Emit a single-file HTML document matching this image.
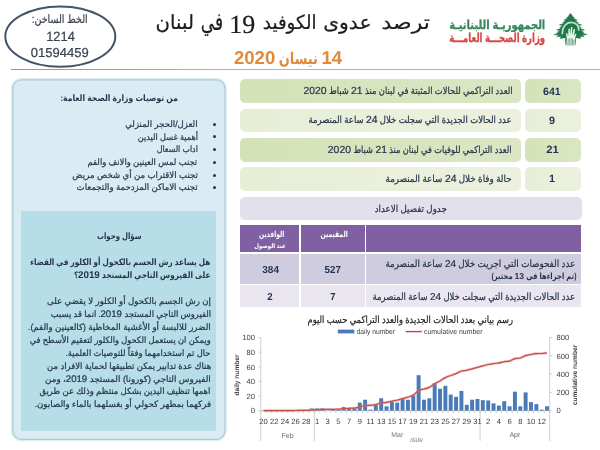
<!DOCTYPE html>
<html lang="ar">
<head>
<meta charset="utf-8">
<title>ترصد عدوى الكوفيد 19 في لبنان</title>
<style>
html,body{margin:0;padding:0;background:#fff;}
body{width:600px;height:450px;position:relative;overflow:hidden;text-rendering:geometricPrecision;font-family:"Liberation Sans","DejaVu Sans",sans-serif;color:#2a3340;}
.t{position:absolute;white-space:nowrap;direction:rtl;line-height:1.3;transform-origin:100% 50%;transform:scaleX(var(--s));--hw:0.278em;-webkit-text-stroke:0.22px currentColor;}
.t .n{display:inline-block;direction:ltr;transform:scaleX(calc(1 / var(--s)));margin:0 calc((1 / var(--s) - 1) * var(--hw) * var(--n));}
.chart{position:absolute;left:0;top:0;}
.logo{position:absolute;left:552.5px;top:12.5px;}
.ellsvg{position:absolute;left:0;top:0;}
.hline{position:absolute;left:11px;top:68.7px;width:589px;height:1px;background:linear-gradient(to right,#8b97a5,#a4b4c0 35%);}
.row{position:absolute;left:239.5px;width:281.3px;height:23.7px;border-radius:5px;}
.num{position:absolute;left:524.8px;width:56.6px;height:23.7px;border-radius:5px;}
.dk{background:linear-gradient(to right,#d4e2b8,#dbe6c4);}
.lt{background:linear-gradient(to right,#e7eed6,#ecf1df);}
.prow{position:absolute;left:240px;top:196.7px;width:341.9px;height:23.2px;border-radius:5px;background:#e4dfec;}
.th{position:absolute;top:224.8px;height:26.8px;background:#7f60a3;}
.td{position:absolute;}
.r1{top:253.8px;height:29.8px;background:#d0ccdf;}
.r2{top:284.7px;height:22.6px;background:#e9e6f0;}
.c1{left:240px;width:59.3px;}
.c2{left:300.6px;width:64px;}
.c3{left:365.8px;width:215.4px;}
.tn{position:absolute;text-align:center;font-weight:bold;font-size:12px;color:#1f2c40;line-height:14px;}
.panel{position:absolute;left:12.3px;top:79.5px;width:211.6px;height:357px;border:1.3px solid #a8c8d8;border-radius:10.5px;background:#daecf3;box-shadow:0 0 2.5px rgba(150,200,225,0.8);}
.inner{position:absolute;left:21.1px;top:211px;width:195.4px;height:220.3px;background:#b6dde8;}
.bu{position:absolute;left:213.3px;width:3px;height:3px;border-radius:50%;background:#2a3340;}
</style>
</head>
<body>
<svg class="ellsvg" width="125" height="75" viewBox="0 0 125 75"><ellipse cx="60.3" cy="36.6" rx="55" ry="30.2" fill="none" stroke="#43536a" stroke-width="2"/></svg>
<svg class="logo" width="36" height="34" viewBox="0 0 36 34">
<path fill="#20764a" stroke="#20764a" stroke-width="0.5" stroke-linejoin="round" d="M17.5 0.4 L15.6 2.4 L16.5 2.8 L13.6 4.7 L15.0 5.1 L10.8 7.2 L13.4 7.7 L9.8 9.6 L11.6 10.0 L6.4 12.0 L10.0 12.6 L6.8 14.5 L8.8 15.0 L3.6 17.0 L7.6 17.5 L4.2 19.3 L6.2 19.7 L0.9 21.6 L5.8 22.1 L3.8 23.6 L8.4 23.5 L7.0 25.4 L12.6 24.7 L12.3 27.5 L12.9 32.0 L22.1 32.0 L22.7 27.5 L22.4 24.7 L28.0 25.4 L26.6 23.5 L31.2 23.6 L29.2 22.1 L34.1 21.6 L28.8 19.7 L30.8 19.3 L27.4 17.5 L31.4 17.0 L26.2 15.0 L28.2 14.5 L25.0 12.6 L28.6 12.0 L23.4 10.0 L25.2 9.6 L21.6 7.7 L24.2 7.2 L20.0 5.1 L21.4 4.7 L18.5 2.8 L19.4 2.4 Z"/>
<path fill="none" stroke="#b4e6cb" stroke-width="1.7" stroke-linecap="round" d="M9.3 20.6 C9.4 13.6 13.4 9.3 18 9.3 C22.8 9.4 26.4 12.6 25.6 17"/>
<path fill="#eef8f2" d="M13.4 32 L13.8 25.4 L13.0 20.4 L14.1 20.0 L15.2 23.4 L15.5 15.8 L16.8 15.7 L17.1 22.4 L18.0 13.9 L19.4 14.1 L19.0 22.6 L20.8 15.8 L22.0 16.2 L21.0 23.6 L22.6 20.6 L23.5 21.1 L21.8 26.2 L22.0 32 Z"/>
<path fill="none" stroke="#20764a" stroke-width="0.55" d="M14.9 32 L15.3 26 M16.5 32 L16.7 25 M18.1 32 L18.2 25 M19.6 32 L19.5 25.5 M20.9 32 L20.7 27"/>
</svg>

<div class="hline"></div>
<div class="row dk" style="top:79.2px"></div><div class="num dk" style="top:79.2px"></div>
<div class="row lt" style="top:108.5px"></div><div class="num lt" style="top:108.5px"></div>
<div class="row dk" style="top:138px"></div><div class="num dk" style="top:138px"></div>
<div class="row lt" style="top:167.2px"></div><div class="num lt" style="top:167.2px"></div>
<div class="prow"></div>
<div class="th c1"></div><div class="th c2"></div><div class="th c3"></div>
<div class="td r1 c1"></div><div class="td r1 c2"></div><div class="td r1 c3"></div>
<div class="td r2 c1"></div><div class="td r2 c2"></div><div class="td r2 c3"></div>
<svg class="chart" width="600" height="450" viewBox="0 0 600 450" font-family="'Liberation Sans', sans-serif">
<g stroke="#c4c4c4" stroke-width="0.8" fill="none">
<line x1="260.8" y1="337.5" x2="260.8" y2="410.7"/>
<line x1="549.7" y1="337.5" x2="549.7" y2="410.7"/>
<line x1="260.8" y1="410.7" x2="549.7" y2="410.7"/>
<line x1="258.3" y1="410.7" x2="260.8" y2="410.7"/>
<line x1="258.3" y1="396.1" x2="260.8" y2="396.1"/>
<line x1="258.3" y1="381.4" x2="260.8" y2="381.4"/>
<line x1="258.3" y1="366.8" x2="260.8" y2="366.8"/>
<line x1="258.3" y1="352.1" x2="260.8" y2="352.1"/>
<line x1="258.3" y1="337.5" x2="260.8" y2="337.5"/>
<line x1="549.7" y1="410.7" x2="552.2" y2="410.7"/>
<line x1="549.7" y1="392.4" x2="552.2" y2="392.4"/>
<line x1="549.7" y1="374.1" x2="552.2" y2="374.1"/>
<line x1="549.7" y1="355.8" x2="552.2" y2="355.8"/>
<line x1="549.7" y1="337.5" x2="552.2" y2="337.5"/>
<line x1="260.8" y1="410.7" x2="260.8" y2="413.2"/>
<line x1="266.2" y1="410.7" x2="266.2" y2="413.2"/>
<line x1="271.5" y1="410.7" x2="271.5" y2="413.2"/>
<line x1="276.9" y1="410.7" x2="276.9" y2="413.2"/>
<line x1="282.2" y1="410.7" x2="282.2" y2="413.2"/>
<line x1="287.6" y1="410.7" x2="287.6" y2="413.2"/>
<line x1="292.9" y1="410.7" x2="292.9" y2="413.2"/>
<line x1="298.2" y1="410.7" x2="298.2" y2="413.2"/>
<line x1="303.6" y1="410.7" x2="303.6" y2="413.2"/>
<line x1="308.9" y1="410.7" x2="308.9" y2="413.2"/>
<line x1="314.3" y1="410.7" x2="314.3" y2="413.2"/>
<line x1="319.6" y1="410.7" x2="319.6" y2="413.2"/>
<line x1="325.0" y1="410.7" x2="325.0" y2="413.2"/>
<line x1="330.4" y1="410.7" x2="330.4" y2="413.2"/>
<line x1="335.7" y1="410.7" x2="335.7" y2="413.2"/>
<line x1="341.1" y1="410.7" x2="341.1" y2="413.2"/>
<line x1="346.4" y1="410.7" x2="346.4" y2="413.2"/>
<line x1="351.8" y1="410.7" x2="351.8" y2="413.2"/>
<line x1="357.1" y1="410.7" x2="357.1" y2="413.2"/>
<line x1="362.4" y1="410.7" x2="362.4" y2="413.2"/>
<line x1="367.8" y1="410.7" x2="367.8" y2="413.2"/>
<line x1="373.1" y1="410.7" x2="373.1" y2="413.2"/>
<line x1="378.5" y1="410.7" x2="378.5" y2="413.2"/>
<line x1="383.9" y1="410.7" x2="383.9" y2="413.2"/>
<line x1="389.2" y1="410.7" x2="389.2" y2="413.2"/>
<line x1="394.6" y1="410.7" x2="394.6" y2="413.2"/>
<line x1="399.9" y1="410.7" x2="399.9" y2="413.2"/>
<line x1="405.2" y1="410.7" x2="405.2" y2="413.2"/>
<line x1="410.6" y1="410.7" x2="410.6" y2="413.2"/>
<line x1="415.9" y1="410.7" x2="415.9" y2="413.2"/>
<line x1="421.3" y1="410.7" x2="421.3" y2="413.2"/>
<line x1="426.6" y1="410.7" x2="426.6" y2="413.2"/>
<line x1="432.0" y1="410.7" x2="432.0" y2="413.2"/>
<line x1="437.4" y1="410.7" x2="437.4" y2="413.2"/>
<line x1="442.7" y1="410.7" x2="442.7" y2="413.2"/>
<line x1="448.1" y1="410.7" x2="448.1" y2="413.2"/>
<line x1="453.4" y1="410.7" x2="453.4" y2="413.2"/>
<line x1="458.8" y1="410.7" x2="458.8" y2="413.2"/>
<line x1="464.1" y1="410.7" x2="464.1" y2="413.2"/>
<line x1="469.4" y1="410.7" x2="469.4" y2="413.2"/>
<line x1="474.8" y1="410.7" x2="474.8" y2="413.2"/>
<line x1="480.1" y1="410.7" x2="480.1" y2="413.2"/>
<line x1="485.5" y1="410.7" x2="485.5" y2="413.2"/>
<line x1="490.9" y1="410.7" x2="490.9" y2="413.2"/>
<line x1="496.2" y1="410.7" x2="496.2" y2="413.2"/>
<line x1="501.5" y1="410.7" x2="501.5" y2="413.2"/>
<line x1="506.9" y1="410.7" x2="506.9" y2="413.2"/>
<line x1="512.2" y1="410.7" x2="512.2" y2="413.2"/>
<line x1="517.6" y1="410.7" x2="517.6" y2="413.2"/>
<line x1="523.0" y1="410.7" x2="523.0" y2="413.2"/>
<line x1="528.3" y1="410.7" x2="528.3" y2="413.2"/>
<line x1="533.6" y1="410.7" x2="533.6" y2="413.2"/>
<line x1="539.0" y1="410.7" x2="539.0" y2="413.2"/>
<line x1="544.3" y1="410.7" x2="544.3" y2="413.2"/>
<line x1="549.7" y1="410.7" x2="549.7" y2="413.2"/>
<line x1="260.8" y1="410.7" x2="260.8" y2="441.0"/>
<line x1="314.3" y1="410.7" x2="314.3" y2="441.0"/>
<line x1="480.1" y1="410.7" x2="480.1" y2="441.0"/>
<line x1="549.7" y1="410.7" x2="549.7" y2="441.0"/>
</g>
<g fill="#4a7ab7"><rect x="266.85" y="409.97" width="3.95" height="0.73"/><rect x="293.60" y="409.97" width="3.95" height="0.73"/><rect x="298.95" y="409.97" width="3.95" height="0.73"/><rect x="304.30" y="409.97" width="3.95" height="0.73"/><rect x="309.65" y="408.50" width="3.95" height="2.20"/><rect x="315.00" y="408.50" width="3.95" height="2.20"/><rect x="320.35" y="408.50" width="3.95" height="2.20"/><rect x="331.05" y="409.24" width="3.95" height="1.46"/><rect x="336.40" y="409.97" width="3.95" height="0.73"/><rect x="341.75" y="407.04" width="3.95" height="3.66"/><rect x="347.10" y="408.14" width="3.95" height="2.56"/><rect x="352.45" y="408.14" width="3.95" height="2.56"/><rect x="357.80" y="402.65" width="3.95" height="8.05"/><rect x="363.15" y="399.72" width="3.95" height="10.98"/><rect x="368.50" y="409.68" width="3.95" height="1.02"/><rect x="373.85" y="404.84" width="3.95" height="5.86"/><rect x="379.20" y="398.26" width="3.95" height="12.44"/><rect x="384.55" y="406.31" width="3.95" height="4.39"/><rect x="389.90" y="401.92" width="3.95" height="8.78"/><rect x="395.25" y="402.65" width="3.95" height="8.05"/><rect x="400.60" y="398.99" width="3.95" height="11.71"/><rect x="405.95" y="399.72" width="3.95" height="10.98"/><rect x="411.30" y="395.33" width="3.95" height="15.37"/><rect x="416.65" y="375.20" width="3.95" height="35.50"/><rect x="422.00" y="399.72" width="3.95" height="10.98"/><rect x="427.35" y="398.26" width="3.95" height="12.44"/><rect x="432.70" y="383.25" width="3.95" height="27.45"/><rect x="438.05" y="388.74" width="3.95" height="21.96"/><rect x="443.40" y="385.81" width="3.95" height="24.89"/><rect x="448.75" y="394.60" width="3.95" height="16.10"/><rect x="454.10" y="396.79" width="3.95" height="13.91"/><rect x="459.45" y="390.94" width="3.95" height="19.76"/><rect x="464.80" y="404.84" width="3.95" height="5.86"/><rect x="470.15" y="399.72" width="3.95" height="10.98"/><rect x="475.50" y="398.99" width="3.95" height="11.71"/><rect x="480.85" y="400.16" width="3.95" height="10.54"/><rect x="486.20" y="400.45" width="3.95" height="10.25"/><rect x="491.55" y="403.38" width="3.95" height="7.32"/><rect x="496.90" y="405.58" width="3.95" height="5.12"/><rect x="502.25" y="401.18" width="3.95" height="9.52"/><rect x="507.60" y="406.31" width="3.95" height="4.39"/><rect x="512.95" y="391.67" width="3.95" height="19.03"/><rect x="518.30" y="406.31" width="3.95" height="4.39"/><rect x="523.65" y="392.40" width="3.95" height="18.30"/><rect x="529.00" y="402.14" width="3.95" height="8.56"/><rect x="534.35" y="404.11" width="3.95" height="6.59"/><rect x="539.70" y="409.68" width="3.95" height="1.02"/><rect x="545.05" y="406.31" width="3.95" height="4.39"/></g>
<path d="M263.5 410.7 C264.4 410.7 267.0 410.6 268.8 410.6 C270.6 410.6 272.4 410.6 274.2 410.6 C276.0 410.6 277.7 410.6 279.5 410.6 C281.3 410.6 283.1 410.6 284.9 410.6 C286.7 410.6 288.4 410.6 290.2 410.6 C292.0 410.6 293.8 410.5 295.6 410.5 C297.4 410.5 299.1 410.4 300.9 410.4 C302.7 410.4 304.5 410.4 306.3 410.3 C308.1 410.3 309.8 410.1 311.6 410.0 C313.4 409.9 315.2 409.8 317.0 409.7 C318.8 409.6 320.5 409.5 322.3 409.4 C324.1 409.4 325.9 409.5 327.7 409.4 C329.5 409.4 331.2 409.3 333.0 409.3 C334.8 409.2 336.6 409.3 338.4 409.2 C340.2 409.1 341.9 408.8 343.7 408.7 C345.5 408.5 347.3 408.5 349.1 408.3 C350.9 408.2 352.6 408.2 354.4 408.0 C356.2 407.8 358.0 407.4 359.8 406.9 C361.6 406.5 363.3 405.8 365.1 405.5 C366.9 405.2 368.7 405.5 370.5 405.4 C372.3 405.2 374.0 405.0 375.8 404.6 C377.6 404.2 379.4 403.3 381.2 402.9 C383.0 402.6 384.7 402.7 386.5 402.4 C388.3 402.1 390.1 401.6 391.9 401.2 C393.7 400.8 395.4 400.6 397.2 400.2 C399.0 399.7 400.8 399.1 402.6 398.6 C404.4 398.1 406.1 397.7 407.9 397.2 C409.7 396.6 411.5 396.3 413.3 395.1 C415.1 394.0 416.8 391.5 418.6 390.5 C420.4 389.4 422.2 389.5 424.0 389.0 C425.8 388.5 427.5 388.3 429.3 387.4 C431.1 386.5 432.9 384.9 434.7 383.8 C436.5 382.7 438.2 381.9 440.0 380.9 C441.8 379.8 443.6 378.5 445.4 377.6 C447.2 376.7 448.9 376.1 450.7 375.5 C452.5 374.8 454.3 374.4 456.1 373.6 C457.9 372.9 459.6 371.6 461.4 371.0 C463.2 370.5 465.0 370.6 466.8 370.3 C468.6 369.9 470.3 369.3 472.1 368.8 C473.9 368.3 475.7 367.8 477.5 367.3 C479.3 366.8 481.0 366.4 482.8 365.9 C484.6 365.4 486.4 364.9 488.2 364.5 C490.0 364.2 491.7 363.9 493.5 363.6 C495.3 363.3 497.1 363.2 498.9 362.9 C500.7 362.6 502.4 362.0 504.2 361.7 C506.0 361.3 507.8 361.6 509.6 361.1 C511.4 360.6 513.1 359.1 514.9 358.6 C516.7 358.1 518.5 358.5 520.3 358.0 C522.1 357.5 523.8 356.2 525.6 355.6 C527.4 355.0 529.2 354.8 531.0 354.5 C532.8 354.1 534.5 353.8 536.3 353.6 C538.1 353.4 539.9 353.6 541.7 353.5 C543.5 353.3 546.1 353.0 547.0 352.9" fill="none" stroke="#d9867f" stroke-width="2.6" stroke-linejoin="round" opacity="0.5"/>
<path d="M263.5 410.7 C264.4 410.7 267.0 410.6 268.8 410.6 C270.6 410.6 272.4 410.6 274.2 410.6 C276.0 410.6 277.7 410.6 279.5 410.6 C281.3 410.6 283.1 410.6 284.9 410.6 C286.7 410.6 288.4 410.6 290.2 410.6 C292.0 410.6 293.8 410.5 295.6 410.5 C297.4 410.5 299.1 410.4 300.9 410.4 C302.7 410.4 304.5 410.4 306.3 410.3 C308.1 410.3 309.8 410.1 311.6 410.0 C313.4 409.9 315.2 409.8 317.0 409.7 C318.8 409.6 320.5 409.5 322.3 409.4 C324.1 409.4 325.9 409.5 327.7 409.4 C329.5 409.4 331.2 409.3 333.0 409.3 C334.8 409.2 336.6 409.3 338.4 409.2 C340.2 409.1 341.9 408.8 343.7 408.7 C345.5 408.5 347.3 408.5 349.1 408.3 C350.9 408.2 352.6 408.2 354.4 408.0 C356.2 407.8 358.0 407.4 359.8 406.9 C361.6 406.5 363.3 405.8 365.1 405.5 C366.9 405.2 368.7 405.5 370.5 405.4 C372.3 405.2 374.0 405.0 375.8 404.6 C377.6 404.2 379.4 403.3 381.2 402.9 C383.0 402.6 384.7 402.7 386.5 402.4 C388.3 402.1 390.1 401.6 391.9 401.2 C393.7 400.8 395.4 400.6 397.2 400.2 C399.0 399.7 400.8 399.1 402.6 398.6 C404.4 398.1 406.1 397.7 407.9 397.2 C409.7 396.6 411.5 396.3 413.3 395.1 C415.1 394.0 416.8 391.5 418.6 390.5 C420.4 389.4 422.2 389.5 424.0 389.0 C425.8 388.5 427.5 388.3 429.3 387.4 C431.1 386.5 432.9 384.9 434.7 383.8 C436.5 382.7 438.2 381.9 440.0 380.9 C441.8 379.8 443.6 378.5 445.4 377.6 C447.2 376.7 448.9 376.1 450.7 375.5 C452.5 374.8 454.3 374.4 456.1 373.6 C457.9 372.9 459.6 371.6 461.4 371.0 C463.2 370.5 465.0 370.6 466.8 370.3 C468.6 369.9 470.3 369.3 472.1 368.8 C473.9 368.3 475.7 367.8 477.5 367.3 C479.3 366.8 481.0 366.4 482.8 365.9 C484.6 365.4 486.4 364.9 488.2 364.5 C490.0 364.2 491.7 363.9 493.5 363.6 C495.3 363.3 497.1 363.2 498.9 362.9 C500.7 362.6 502.4 362.0 504.2 361.7 C506.0 361.3 507.8 361.6 509.6 361.1 C511.4 360.6 513.1 359.1 514.9 358.6 C516.7 358.1 518.5 358.5 520.3 358.0 C522.1 357.5 523.8 356.2 525.6 355.6 C527.4 355.0 529.2 354.8 531.0 354.5 C532.8 354.1 534.5 353.8 536.3 353.6 C538.1 353.4 539.9 353.6 541.7 353.5 C543.5 353.3 546.1 353.0 547.0 352.9" fill="none" stroke="#c4504a" stroke-width="1.2" stroke-linejoin="round"/>
<g font-size="7.6" fill="#3c3c3c">
<text x="255" y="413.4" text-anchor="end">0</text>
<text x="255" y="398.8" text-anchor="end">20</text>
<text x="255" y="384.1" text-anchor="end">40</text>
<text x="255" y="369.5" text-anchor="end">60</text>
<text x="255" y="354.8" text-anchor="end">80</text>
<text x="255" y="340.2" text-anchor="end">100</text>
<text x="556.5" y="413.4">0</text>
<text x="556.5" y="395.1">200</text>
<text x="556.5" y="376.8">400</text>
<text x="556.5" y="358.5">600</text>
<text x="556.5" y="340.2">800</text>
<text x="263.5" y="424" text-anchor="middle">20</text>
<text x="274.2" y="424" text-anchor="middle">22</text>
<text x="284.9" y="424" text-anchor="middle">24</text>
<text x="295.6" y="424" text-anchor="middle">26</text>
<text x="306.3" y="424" text-anchor="middle">28</text>
<text x="317.0" y="424" text-anchor="middle">1</text>
<text x="327.7" y="424" text-anchor="middle">3</text>
<text x="338.4" y="424" text-anchor="middle">5</text>
<text x="349.1" y="424" text-anchor="middle">7</text>
<text x="359.8" y="424" text-anchor="middle">9</text>
<text x="370.5" y="424" text-anchor="middle">11</text>
<text x="381.2" y="424" text-anchor="middle">13</text>
<text x="391.9" y="424" text-anchor="middle">15</text>
<text x="402.6" y="424" text-anchor="middle">17</text>
<text x="413.3" y="424" text-anchor="middle">19</text>
<text x="424.0" y="424" text-anchor="middle">21</text>
<text x="434.7" y="424" text-anchor="middle">23</text>
<text x="445.4" y="424" text-anchor="middle">25</text>
<text x="456.1" y="424" text-anchor="middle">27</text>
<text x="466.8" y="424" text-anchor="middle">29</text>
<text x="477.5" y="424" text-anchor="middle">31</text>
<text x="488.2" y="424" text-anchor="middle">2</text>
<text x="498.9" y="424" text-anchor="middle">4</text>
<text x="509.6" y="424" text-anchor="middle">6</text>
<text x="520.3" y="424" text-anchor="middle">8</text>
<text x="531.0" y="424" text-anchor="middle">10</text>
<text x="541.7" y="424" text-anchor="middle">12</text>
<text x="287.6" y="438" text-anchor="middle" font-size="7" fill="#666">Feb</text>
<text x="397.2" y="437" text-anchor="middle" font-size="7" fill="#777">Mar</text>
<text x="514.9" y="437" text-anchor="middle" font-size="7" fill="#666">Apr</text>
<text x="416.5" y="441.8" text-anchor="middle" font-size="6.5" font-style="italic" fill="#8a8a8a">date</text>
<text transform="translate(238.5,375) rotate(-90)" text-anchor="middle" font-size="6.6" font-weight="bold">daily number</text>
<text transform="translate(577,375) rotate(-90)" text-anchor="middle" font-size="6.6" font-weight="bold">cumulative number</text>
<text x="356.5" y="334.2" font-size="7.3" textLength="38.5" lengthAdjust="spacingAndGlyphs">daily number</text>
<text x="424" y="334.2" font-size="7.3" textLength="58.5" lengthAdjust="spacingAndGlyphs">cumulative number</text>
</g>
<rect x="337.8" y="329.6" width="16.5" height="3.8" fill="#4a7ab7"/>
<line x1="405.6" y1="331.6" x2="421.8" y2="331.6" stroke="#c0433c" stroke-width="1.4"/>
</svg>
<svg class="ellsvg" width="240" height="450" viewBox="0 0 240 450"><rect x="12" y="79" width="213.8" height="361.2" rx="9.5" fill="none" stroke="#cfe6f2" stroke-width="2.2" opacity="0.7"/><rect x="12.9" y="79.9" width="212" height="359.4" rx="8.5" fill="#daecf3" stroke="#adcad9" stroke-width="1.2"/></svg>
<div class="inner"></div>
<div class="bu" style="top:122.7px"></div><div class="bu" style="top:135.4px"></div><div class="bu" style="top:148.1px"></div><div class="bu" style="top:160.8px"></div><div class="bu" style="top:173.5px"></div><div class="bu" style="top:186.2px"></div>
<div class="t" id="t0" style="right:512.00px;top:13.00px;font-size:11.5px;color:#3a4350;--s:0.8264;">الخط الساخن:</div>
<div class="t" id="t1" style="right:525.40px;top:28.20px;font-size:13.4px;color:#3a4350;--s:0.9598;">1214</div>
<div class="t" id="t2" style="right:511.30px;top:44.70px;font-size:13px;color:#3a4350;--s:1.0027;">01594459</div>
<div class="t" id="t3" style="right:170.40px;top:11.20px;font-size:19.5px;color:#1c1c1c;--s:1.1306;">ترصد</div>
<div class="t" id="t4" style="right:228.10px;top:11.20px;font-size:19.5px;color:#1c1c1c;--s:1.0373;">عدوى</div>
<div class="t" id="t5" style="right:283.70px;top:11.20px;font-size:19.5px;color:#1c1c1c;--s:0.9331;">الكوفيد</div>
<div class="t" id="t6" style="right:344.80px;top:8.00px;font-size:26px;color:#1c1c1c;--s:1.0000;font-family:'Liberation Serif',serif;">19</div>
<div class="t" id="t7" style="right:377.30px;top:6.80px;font-size:24.5px;color:#1c1c1c;--s:0.6938;">في</div>
<div class="t" id="t8" style="right:405.80px;top:11.20px;font-size:19.5px;color:#1c1c1c;--s:1.0109;">لبنان</div>
<div class="t" id="t9" style="right:257.60px;top:46.00px;font-size:16px;color:#e08a3c;--s:0.8076;font-weight:bold;-webkit-text-stroke:0;"><span class="n" style="--n:2;font-size:18.6px;">14</span> نيسان <span class="n" style="--n:4;font-size:18.6px;">2020</span></div>
<div class="t" id="t10" style="right:54.40px;top:17.80px;font-size:12.2px;color:#37885a;--s:0.8184;font-weight:bold;-webkit-text-stroke:0;-webkit-text-stroke:0.3px currentColor;">الجمهوريـة اللبنانيـة</div>
<div class="t" id="t11" style="right:54.40px;top:30.00px;font-size:12.4px;color:#d84846;--s:0.6900;font-weight:bold;-webkit-text-stroke:0;-webkit-text-stroke:0.3px currentColor;">وزارة الصحـــة العامـــة</div>
<div class="t" id="t12" style="right:87.70px;top:85.30px;font-size:9.9px;color:#26344a;--s:0.8475;">العدد التراكمي للحالات المثبتة في لبنان منذ <span class="n" style="--n:2;font-size:10.4px;">21</span> شباط <span class="n" style="--n:4;font-size:10.4px;">2020</span></div>
<div class="t" id="t13" style="right:88.20px;top:114.00px;font-size:9.9px;color:#26344a;--s:0.8587;">عدد الحالات الجديدة التي سجلت خلال <span class="n" style="--n:2;font-size:10.4px;">24</span> ساعة المنصرمة</div>
<div class="t" id="t14" style="right:88.20px;top:144.00px;font-size:9.9px;color:#26344a;--s:0.8358;">العدد التراكمي للوفيات في لبنان منذ <span class="n" style="--n:2;font-size:10.4px;">21</span> شباط <span class="n" style="--n:4;font-size:10.4px;">2020</span></div>
<div class="t" id="t15" style="right:88.20px;top:172.80px;font-size:9.9px;color:#26344a;--s:0.8845;">حالة وفاة خلال <span class="n" style="--n:2;font-size:10.4px;">24</span> ساعة المنصرمة</div>
<div class="t" id="t16" style="right:153.50px;top:203.50px;font-size:9.6px;color:#26344a;--s:0.9028;">جدول تفصيل الاعداد</div>
<div class="t" id="t17" style="right:315.40px;top:229.90px;font-size:8.2px;color:#fff;--s:0.7363;font-weight:bold;-webkit-text-stroke:0;">الوافدين</div>
<div class="t" id="t18" style="right:314.20px;top:243.00px;font-size:6.4px;color:#fff;--s:0.8595;font-weight:bold;-webkit-text-stroke:0;">عند الوصول</div>
<div class="t" id="t19" style="right:252.60px;top:229.90px;font-size:8.2px;color:#fff;--s:0.7443;font-weight:bold;-webkit-text-stroke:0;">المقيمين</div>
<div class="t" id="t20" style="right:24.50px;top:258.00px;font-size:10px;color:#26344a;--s:0.8740;">عدد الفحوصات التي اجريت خلال <span class="n" style="--n:2;">24</span> ساعة المنصرمة</div>
<div class="t" id="t21" style="right:24.00px;top:271.20px;font-size:8.6px;color:#26344a;--s:0.7985;font-weight:bold;-webkit-text-stroke:0;">(تم اجراءها في <span class="n" style="--n:2;">13</span> مختبر)</div>
<div class="t" id="t22" style="right:24.50px;top:290.50px;font-size:10px;color:#26344a;--s:0.8477;">عدد الحالات الجديدة التي سجلت خلال <span class="n" style="--n:2;">24</span> ساعة المنصرمة</div>
<div class="t" id="t23" style="right:86.60px;top:313.60px;font-size:10px;color:#222;--s:0.8318;">رسم بياني بعدد الحالات الجديدة والعدد التراكمي حسب اليوم</div>
<div class="t" id="t24" style="right:39.20px;top:85.70px;font-size:10.6px;color:#1f3052;--s:0.9951;font-weight:bold;-webkit-text-stroke:0;">641</div>
<div class="t" id="t25" style="right:45.00px;top:115.00px;font-size:10.6px;color:#1f3052;--s:1.0159;font-weight:bold;-webkit-text-stroke:0;">9</div>
<div class="t" id="t26" style="right:41.70px;top:144.20px;font-size:10.6px;color:#1f3052;--s:1.0596;font-weight:bold;-webkit-text-stroke:0;">21</div>
<div class="t" id="t27" style="right:45.00px;top:173.30px;font-size:10.6px;color:#1f3052;--s:1.0159;font-weight:bold;-webkit-text-stroke:0;">1</div>
<div class="t" id="t28" style="right:321.30px;top:264.40px;font-size:10.2px;color:#1f3052;--s:0.9824;font-weight:bold;-webkit-text-stroke:0;">384</div>
<div class="t" id="t29" style="right:259.40px;top:264.40px;font-size:10.2px;color:#1f3052;--s:0.9647;font-weight:bold;-webkit-text-stroke:0;">527</div>
<div class="t" id="t30" style="right:327.20px;top:291.10px;font-size:10.2px;color:#1f3052;--s:0.9521;font-weight:bold;-webkit-text-stroke:0;">2</div>
<div class="t" id="t31" style="right:264.40px;top:291.10px;font-size:10.2px;color:#1f3052;--s:0.9344;font-weight:bold;-webkit-text-stroke:0;">7</div>
<div class="t" id="t32" style="right:422.00px;top:93.20px;font-size:8.8px;color:#26344a;--s:0.8706;font-weight:bold;-webkit-text-stroke:0;">من توصيات وزارة الصحة العامة:</div>
<div class="t" id="t33" style="right:402.40px;top:118.90px;font-size:8.8px;color:#26344a;--s:0.9708;">العزل/الحجر المنزلي</div>
<div class="t" id="t34" style="right:402.40px;top:131.60px;font-size:8.8px;color:#26344a;--s:0.9264;">أهمية غسل اليدين</div>
<div class="t" id="t35" style="right:402.40px;top:144.30px;font-size:8.8px;color:#26344a;--s:0.8968;">اداب السعال</div>
<div class="t" id="t36" style="right:402.40px;top:157.00px;font-size:8.8px;color:#26344a;--s:0.9518;">تجنب لمس العينين والانف والفم</div>
<div class="t" id="t37" style="right:402.40px;top:169.70px;font-size:8.8px;color:#26344a;--s:0.9744;">تجنب الاقتراب من أي شخص مريض</div>
<div class="t" id="t38" style="right:402.40px;top:182.40px;font-size:8.8px;color:#26344a;--s:0.9710;">تجنب الاماكن المزدحمة والتجمعات</div>
<div class="t" id="t39" style="right:458.30px;top:231.00px;font-size:8.8px;color:#26344a;--s:0.7867;font-weight:bold;-webkit-text-stroke:0;">سؤال وجواب</div>
<div class="t" id="t40" style="right:389.30px;top:256.70px;font-size:8.8px;color:#26344a;--s:0.8243;font-weight:bold;-webkit-text-stroke:0;">هل يساعد رش الجسم بالكحول أو الكلور في القضاء</div>
<div class="t" id="t41" style="right:389.30px;top:270.00px;font-size:8.8px;color:#26344a;--s:0.8352;font-weight:bold;-webkit-text-stroke:0;">على الفيروس التاجي المستجد <span class="n" style="--n:4;font-size:9.8px;">2019</span>؟</div>
<div class="t" id="t42" style="right:389.30px;top:295.70px;font-size:8.8px;color:#26344a;--s:0.9763;">إن رش الجسم بالكحول أو الكلور لا يقضي على</div>
<div class="t" id="t43" style="right:389.30px;top:308.67px;font-size:8.8px;color:#26344a;--s:0.9478;">الفيروس التاجي المستجد <span class="n" style="--n:4;font-size:9.6px;">2019</span>. انما قد يسبب</div>
<div class="t" id="t44" style="right:389.30px;top:321.64px;font-size:8.8px;color:#26344a;--s:0.9838;">الضرر للالبسة أو الأغشية المخاطية (كالعينين والفم).</div>
<div class="t" id="t45" style="right:389.30px;top:334.61px;font-size:8.8px;color:#26344a;--s:0.9396;">ويمكن ان يستعمل الكحول والكلور لتعقيم الأسطح في</div>
<div class="t" id="t46" style="right:389.30px;top:347.58px;font-size:8.8px;color:#26344a;--s:0.9445;">حال تم استخدامهما وفقاً للتوصيات العلمية.</div>
<div class="t" id="t47" style="right:389.30px;top:360.55px;font-size:8.8px;color:#26344a;--s:0.9585;">هناك عدة تدابير يمكن تطبيقها لحماية الافراد من</div>
<div class="t" id="t48" style="right:389.30px;top:373.52px;font-size:8.8px;color:#26344a;--s:0.9937;">الفيروس التاجي (كورونا) المستجد <span class="n" style="--n:4;font-size:9.6px;">2019</span>، ومن</div>
<div class="t" id="t49" style="right:389.30px;top:386.49px;font-size:8.8px;color:#26344a;--s:0.9586;">اهمها  تنظيف اليدين بشكل منتظم وذلك عن طريق</div>
<div class="t" id="t50" style="right:389.30px;top:399.46px;font-size:8.8px;color:#26344a;--s:0.9856;">فركهما بمطهر كحولي أو بغسلهما بالماء والصابون.</div>
</body>
</html>
